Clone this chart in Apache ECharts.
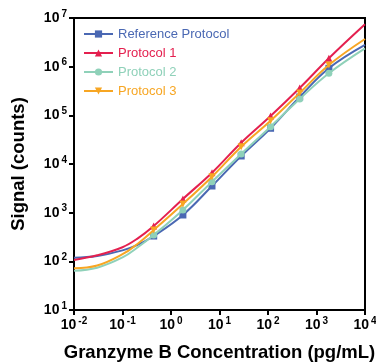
<!DOCTYPE html>
<html>
<head>
<meta charset="utf-8">
<script src="https://cdn.jsdelivr.net/npm/echarts@6/dist/echarts.min.js"></script>
<style>html,body{margin:0;padding:0;background:#fff}#c{width:376px;height:362px}</style>
</head>
<body>
<div id="c"></div>
<script>
// Concentrations (pg/mL) where the fitted curves were read, and where markers sit
const curveConc = [0.01, 0.03, 0.1, 0.2, 0.44, 1.76, 7, 28, 113, 450, 1800, 10000];
const markerConc = [0.44, 1.76, 7, 28, 113, 450, 1800];

const seriesNames = ['Reference Protocol', 'Protocol 1', 'Protocol 2', 'Protocol 3'];
const refSignal   = [119, 129, 168, 215, 331, 896, 3530, 14600, 54200, 238000, 925000, 2790000];
const p1Signal    = [107, 133, 195, 290, 532, 1910, 6620, 27400, 96900, 365000, 1490000, 7430000];
const p2Signal    = [64, 74, 120, 190, 348, 1135, 4330, 16100, 58400, 217000, 731000, 2380000];
const p3Signal    = [72, 82, 140, 225, 440, 1507, 5480, 22700, 77600, 288000, 1080000, 3700000];

const xTickLabels = ['10{s|-2}', '10{s|-1}', '10{s|0}', '10{s|1}', '10{s|2}', '10{s|3}', '10{s|4}'];
const yTickLabels = ['10{s|1}', '10{s|2}', '10{s|3}', '10{s|4}', '10{s|5}', '10{s|6}', '10{s|7}'];

const colors = ['#4a68b3', '#e4204f', '#8fd1b9', '#f7a623'];
const symbols = ['rect', 'triangle', 'circle', 'triangle'];
const rotations = [0, 0, 0, 180];
const allSignals = [refSignal, p1Signal, p2Signal, p3Signal];

function buildData(vals) {
  return curveConc.map((c, i) => {
    const item = { value: [c, vals[i]] };
    if (markerConc.indexOf(c) < 0) item.symbol = 'none';
    return item;
  });
}

const FONT = 'Liberation Sans, Arial, Helvetica, sans-serif';
const rich = {
  b: { fontSize: 14, fontWeight: 'bold', color: '#000', fontFamily: FONT },
  s: { fontSize: 10, fontWeight: 'bold', color: '#000', fontFamily: FONT, padding: [0, 0, 8, 2] }
};

function labelFor(list, v) {
  const e = Math.round(Math.log10(v));
  const idx = list === xTickLabels ? e + 2 : e - 1;
  const t = list[idx];
  if (!t) return '';
  return '{b|10}' + t.slice(2);
}

const chart = echarts.init(document.getElementById('c'), null, { renderer: 'canvas' });
chart.setOption({
  animation: false,
  backgroundColor: '#fff',
  grid: { left: 74, right: 11, top: 18, bottom: 52, outerBoundsMode: 'none', containLabel: false,
          show: true, borderColor: '#000', borderWidth: 2, backgroundColor: 'transparent' },
  legend: {
    orient: 'vertical', left: 83, top: 27, padding: 0, itemWidth: 29, itemHeight: 9, itemGap: 5,
    textStyle: { fontSize: 13, fontFamily: FONT, lineHeight: 14 },
    data: seriesNames.map((n, i) => ({ name: n, textStyle: { color: colors[i] } }))
  },
  xAxis: {
    type: 'log', logBase: 10, min: 0.01, max: 10000,
    name: 'Granzyme B Concentration (pg/mL)', nameLocation: 'middle', nameGap: 33,
    nameTextStyle: { fontSize: 18.5, fontWeight: 'bold', color: '#000', fontFamily: FONT },
    axisLine: { lineStyle: { color: '#000', width: 2 } },
    axisTick: { show: true, length: 5, lineStyle: { color: '#000', width: 2 } },
    minorTick: { show: false },
    splitLine: { show: false },
    axisLabel: { margin: 6, formatter: v => labelFor(xTickLabels, v), rich: rich }
  },
  yAxis: {
    type: 'log', logBase: 10, min: 10, max: 10000000,
    name: 'Signal (counts)', nameLocation: 'middle', nameGap: 46, nameRotate: 90,
    nameTextStyle: { fontSize: 18.5, fontWeight: 'bold', color: '#000', fontFamily: FONT },
    axisLine: { lineStyle: { color: '#000', width: 2 } },
    axisTick: { show: true, length: 5, lineStyle: { color: '#000', width: 2 } },
    splitLine: { show: false },
    axisLabel: { margin: 7, formatter: v => labelFor(yTickLabels, v), rich: rich }
  },
  series: seriesNames.map((n, i) => ({
    name: n, type: 'line', smooth: 0.4,
    data: buildData(allSignals[i]),
    symbol: symbols[i], symbolRotate: rotations[i], symbolSize: 7,
    showSymbol: true,
    itemStyle: { color: colors[i] },
    lineStyle: { color: colors[i], width: 2 },
    z: 2 + i
  }))
});
</script>
</body>
</html>
